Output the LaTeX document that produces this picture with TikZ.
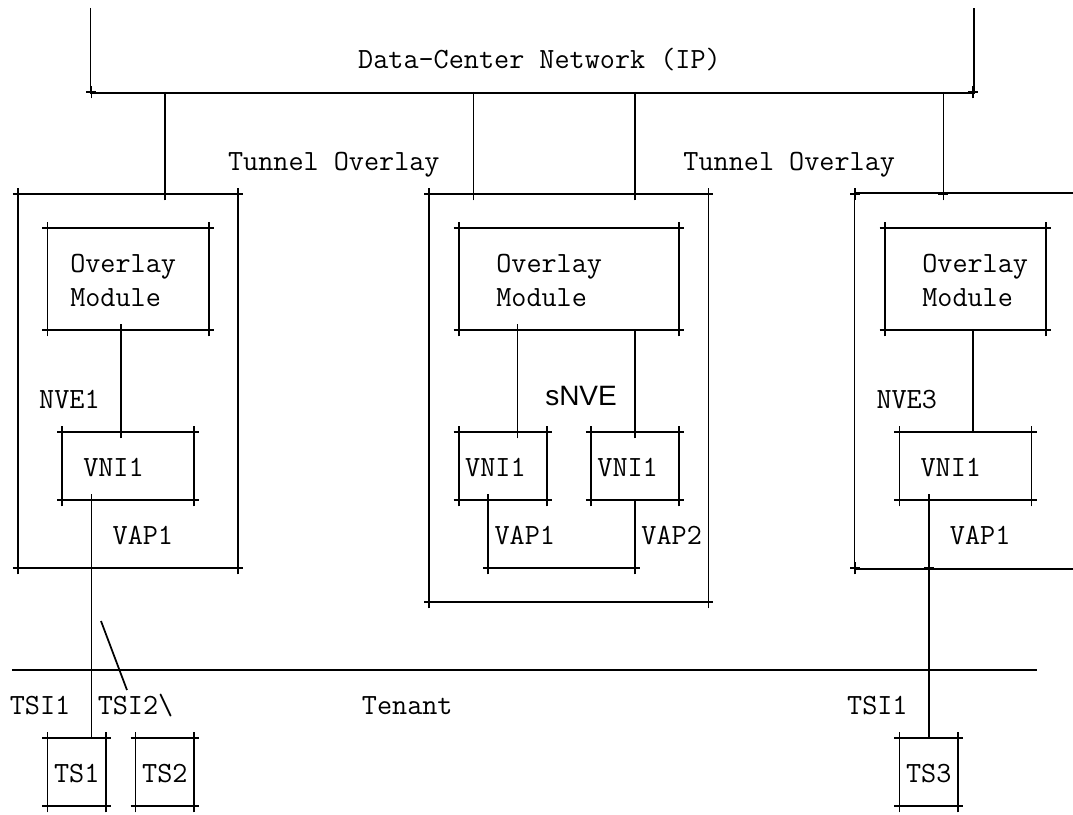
\documentclass[tikz,border=0pt]{standalone}
\usepackage{fontspec}
\newfontfamily\snvefont{Liberation Sans}
\usetikzlibrary{fit}

\begin{document}
\begin{tikzpicture}[x=11.0175pt,y=-25.5pt,line width=1.3pt,
  box/.style={draw,inner sep=0pt},
  frame/.style={inner sep=0pt},
  txt/.style={font=\ttfamily\fontsize{22}{25.5}\selectfont,inner sep=0pt,anchor=base,yshift=-8pt},
  plus/.pic={\draw (-3.75pt,0) -- (3.75pt,0) (0,-4.8pt) -- (0,4.8pt);}]
\useasboundingbox (-1.2253,-0.7059) rectangle (71.818,23.265);

% data-center network, open at the top
\node[frame,fit={(5,-0.45) (65,2)}] (DCN) {};
\draw (DCN.north west) -- (DCN.south west) -- (DCN.south east) -- (DCN.north east);
\node[txt] (DCNl) at (35.5,1) {Data-Center Network (IP)};
\node[txt] (TO1) at (21.5,4) {Tunnel Overlay};
\node[txt] (TO2) at (52.5,4) {Tunnel Overlay};

% NVE1
\node[box,fit={(0,5) (15,16)}] (NVE1) {};
\node[box,fit={(2,6) (13,9)}] (OM1) {};
\node[txt,anchor=base west] (OM1a) at (3.5,7) {Overlay};
\node[txt,anchor=base west] (OM1b) at (3.5,8) {Module};
\node[txt] (NVE1l) at (3.5,11) {NVE1};
\node[box,fit={(3,12) (12,14)}] (VNI11) {};
\node[txt] (VNI11l) at (6.5,13) {VNI1};
\node[txt] (VAP11) at (8.5,15) {VAP1};

% sNVE
\node[box,fit={(28,5) (47,17)}] (SNVE) {};
\node[box,fit={(30,6) (45,9)}] (OM2) {};
\node[txt,anchor=base west] (OM2a) at (32.5,7) {Overlay};
\node[txt,anchor=base west] (OM2b) at (32.5,8) {Module};
\node[txt,font=\snvefont\fontsize{21}{25.5}\selectfont,yshift=2.7pt] (SNVEl) at (38.33,11) {sNVE};
\node[box,fit={(30,12) (36,14)}] (VNI21) {};
\node[txt] (VNI21l) at (32.5,13) {VNI1};
\node[box,fit={(39,12) (45,14)}] (VNI22) {};
\node[txt] (VNI22l) at (41.5,13) {VNI1};
\node[txt] (VAP21) at (34.5,15) {VAP1};
\node[txt] (VAP22) at (44.5,15) {VAP2};

% NVE3, runs off to the right
\node[frame,fit={(57,5) (72,16)}] (NVE3) {};
\draw (NVE3.north east) -- (NVE3.north west) -- (NVE3.south west) -- (NVE3.south east);
\node[box,fit={(59,6) (70,9)}] (OM3) {};
\node[txt,anchor=base west] (OM3a) at (61.5,7) {Overlay};
\node[txt,anchor=base west] (OM3b) at (61.5,8) {Module};
\node[txt] (NVE3l) at (60.5,11) {NVE3};
\node[box,fit={(60,12) (69,14)}] (VNI31) {};
\node[txt] (VNI31l) at (63.5,13) {VNI1};
\node[txt] (VAP31) at (65.5,15) {VAP1};

% tenant systems
\node[txt] (TSI11) at (1.5,20) {TSI1};
\node[txt] (TSI12) at (8,20) {TSI2\textbackslash};
\node[txt] (Ten) at (26.5,20) {Tenant};
\node[txt] (TSI31) at (58.5,20) {TSI1};
\node[box,fit={(2,21) (6,23)}] (TS1) {};
\node[txt] (TS1l) at (4,22) {TS1};
\node[box,fit={(8,21) (12,23)}] (TS2) {};
\node[txt] (TS2l) at (10,22) {TS2};
\node[box,fit={(60,21) (64,23)}] (TS3) {};
\node[txt] (TS3l) at (62,22) {TS3};

% tunnels down from the network
\coordinate (T1) at (10,2);
\coordinate (T2) at (31,2);
\coordinate (T3) at (42,2);
\coordinate (T4) at (63,2);
\draw (T1) -- (T1 |- NVE1.north);
\draw (T2) -- (T2 |- SNVE.north);
\draw (T3) -- (T3 |- SNVE.north);
\draw (T4) -- (T4 |- NVE3.north);

% overlay module to VNI
\coordinate (L1) at (7,0);
\coordinate (L2) at (34,0);
\coordinate (L3) at (42,0);
\coordinate (L4) at (65,0);
\draw (L1 |- OM1.south) -- (L1 |- VNI11.north);
\draw (L2 |- OM2.south) -- (L2 |- VNI21.north);
\draw (L3 |- OM2.south) -- (L3 |- VNI22.north);
\draw (L4 |- OM3.south) -- (L4 |- VNI31.north);

% VAPs
\coordinate (P1) at (5,0);
\coordinate (P2) at (62,0);
\coordinate (P3) at (32,16);
\coordinate (P4) at (42,16);
\draw (P1 |- VNI11.south) -- (P1 |- TS1.north);
\draw (P2 |- VNI31.south) -- (P2 |- TS3.north);
\draw (P3 |- VNI21.south) -- (P3) -- (P4) -- (P4 |- VNI22.south);

% tenant line and the branch to TS2
\coordinate (TenL) at (-0.41,19);
\coordinate (TenR) at (69.4,19);
\draw (TenL) -- (TenR);
\coordinate (B1) at (5.65,17.56);
\coordinate (B2) at (7.42,19.59);
\draw (B1) -- (B2);

% junction marks
\foreach \c/\r in {5/2,65/2,0/5,10/5,15/5,28/5,31/5,42/5,47/5,57/5,63/5,
  2/6,13/6,30/6,45/6,59/6,70/6,
  2/9,7/9,13/9,30/9,34/9,45/9,59/9,70/9,
  3/12,7/12,12/12,30/12,34/12,36/12,39/12,42/12,45/12,60/12,69/12,
  3/14,5/14,12/14,30/14,32/14,36/14,39/14,45/14,60/14,62/14,69/14,
  0/16,5/16,15/16,32/16,42/16,57/16,62/16,
  28/17,47/17,5/19,62/19,
  2/21,6/21,8/21,12/21,60/21,64/21,
  2/23,6/23,8/23,12/23,60/23,64/23}
  \pic at (\c,\r) {plus};
\end{tikzpicture}
\end{document}
